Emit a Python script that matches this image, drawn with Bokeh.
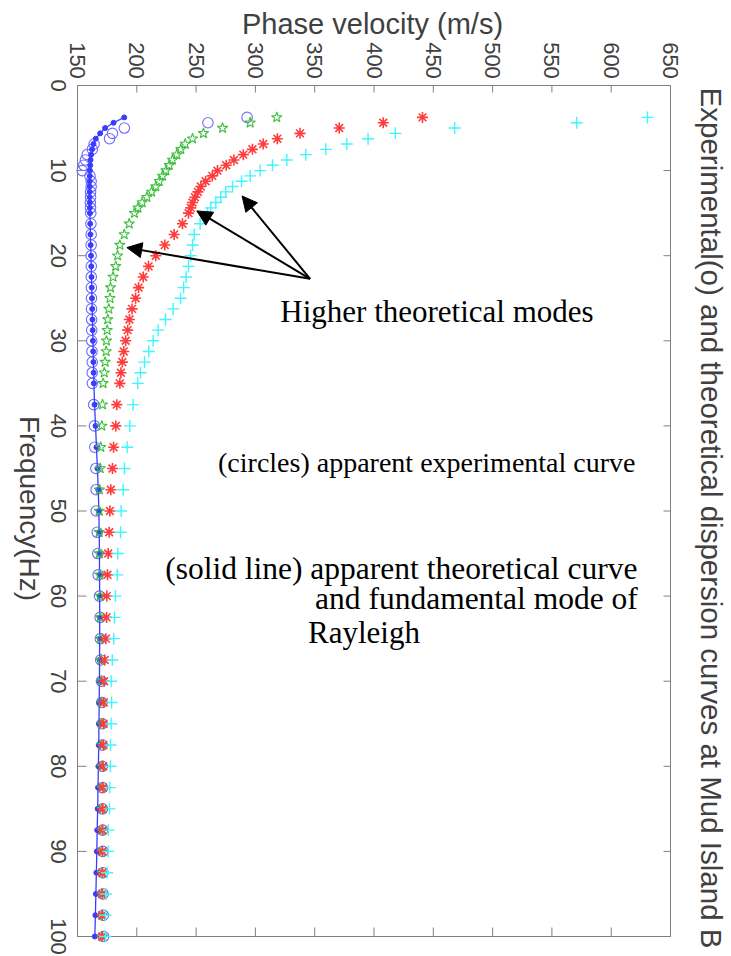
import math
from bokeh.plotting import figure
from bokeh.models import Range1d, Arrow, NormalHead, Label
from bokeh.embed import file_html
from bokeh.resources import INLINE

# ---------------- data ----------------
freq = [3.75, 4.375, 5.0, 5.625, 6.25, 6.875, 7.5, 8.125, 8.75, 9.375, 10.0, 10.625,
        11.25, 11.875, 12.5, 13.125, 13.75, 14.375, 15.0,
        16.25, 17.5, 18.75, 20.0, 21.25, 22.5, 23.75, 25.0, 26.25, 27.5, 28.75, 30.0,
        31.25, 32.5, 33.75, 35.0,
        37.5, 40.0, 42.5, 45.0, 47.5, 50.0, 52.5, 55.0, 57.5, 60.0, 62.5, 65.0, 67.5,
        70.0, 72.5, 75.0, 77.5, 80.0, 82.5, 85.0, 87.5, 90.0, 92.5, 95.0, 97.5, 100.0]

# experimental (circles)
exp_vel = [293, 260, 189.5, 179.5, 177, 164, 162.5, 158.2, 156.7, 155.3, 154, 160.5,
           161.5, 161.5, 161, 161, 160.8, 161, 161.2,
           161.3, 161.5, 161.5, 161.5, 161.6, 161.6, 161.7, 161.8, 161.8, 161.9, 162, 162,
           162.2, 162.4, 162.4, 162.5,
           163.7, 164.3, 164.6, 165.5, 165.7, 165.8, 166.6, 167.1, 167.4, 168.5, 169.1, 169.3,
           169.6, 170.2, 170.5, 170.8, 170.8, 170.9, 171, 171, 171.2, 171.3, 171.5, 171.6,
           171.8, 172]

# theoretical apparent / fundamental (solid line with dots)
fund_vel = [189.4, 180.4, 173.3, 169.1, 165.4, 163.5, 162.3, 161.5, 161, 160.7, 160.5, 160.4,
            160.3, 160.3, 160.3, 160.3, 160.4, 160.4, 160.5,
            160.7, 160.9, 161.1, 161.4, 161.6, 161.8, 162, 162.2, 162.4, 162.6, 162.8, 163,
            163.2, 163.4, 163.6, 163.8,
            164.4, 165.2, 166, 166.8, 167.5, 168, 168.3, 168.5, 168.6, 168.7, 168.7, 168.7,
            168.6, 168.5, 168.3, 168.1, 167.9, 167.6, 167.3, 167, 166.6, 166.3, 165.9, 165.5,
            165.1, 164.6]

# higher mode 1 (green pentagrams)
mode1_vel = [318, 295.6, 272.3, 256.2, 247, 240.8, 237.1, 233.7, 230.1, 227.3, 224.5, 221.7,
             218.9, 216, 212.5, 208.5, 204.5, 201, 198,
             193.6, 189.4, 185.7, 183.8, 182.2, 180, 177.8, 177.4, 176.4, 175.5, 175, 174.4,
             174.2, 173.3, 172.6, 171.6,
             171.1, 170.5, 169.6, 169.1, 168.5, 168.3, 168.3, 168.4, 168.8, 169.1, 169.2, 169.3,
             169.6, 170.2, 170.3, 170.4, 170.5, 170.5, 170.6, 170.6, 170.7, 170.7, 170.8, 170.8,
             170.9, 170.9]

# higher mode 2 (red asterisks)
mode2_vel = [440.9, 407.8, 370.7, 337.6, 318.5, 306.6, 297.5, 289.8, 281.9, 275.4, 268, 263.7,
             258, 254, 251.5, 249, 247, 245.5, 243.6,
             238.5, 231.5, 223.6, 216, 209.9, 205.4, 201.5, 199, 196, 193.8, 192.3, 190.6,
             189, 187.8, 186.6, 185.7,
             183.1, 182.3, 180.4, 179.5, 178.1, 177.3, 176.7, 175.9, 175.3, 174.7, 174.5, 173.9,
             173, 172.5, 172.2, 172, 171.8, 171.6, 171.5, 171.3, 171.2, 171, 171, 170.9,
             170.8, 170.8]

# higher mode 3 (cyan plus)
mode3_vel = [630.6, 571, 468, 418, 395, 377, 359.4, 342.5, 326.5, 314.4, 304, 295.6,
             288.3, 280.7, 275, 270.8, 266.6, 262.4, 259.6,
             253.4, 248.4, 247, 245.4, 243.6, 241.6, 239.5, 236.9, 230.7, 224.2, 218, 213.8,
             210.1, 206.5, 203.1, 200.8,
             196.9, 194.1, 191.9, 189.6, 188.5, 186.8, 186.3, 184, 183.5, 182, 181.2, 180.6,
             179.3, 178.4, 178.8, 178.4, 177.8, 177.8, 177.2, 177, 176, 175.9, 175, 174,
             173.6, 173.5]

x_ticks = [150, 200, 250, 300, 350, 400, 450, 500, 550, 600, 650]
y_ticks = [0, 10, 20, 30, 40, 50, 60, 70, 80, 90, 100]

title_text = "Experimental(o) and theoretical dispersion curves at Mud Island B"
x_label = "Phase velocity (m/s)"
y_label = "Frequency(Hz)"

# arrows: (velocity, frequency) of tail and of the three heads
arrow_tail = (346.1, 22.72)
arrow_tips = [(191.6, 19.05), (250.6, 14.74), (288.8, 12.98)]

# note text, left velocity, centre frequency, font size
notes = [("Higher theoretical modes", 321.0, 26.5, "31px"),
         ("(circles) apparent experimental curve", 268.5, 44.3, "28px"),
         ("(solid line) apparent theoretical curve", 223.9, 56.8, "31.5px"),
         ("and fundamental mode of", 350.3, 60.3, "31.5px"),
         ("Rayleigh", 344.4, 64.3, "31px")]

# ---------------- layout (pixels of the canvas) ----------------
W, H = 731, 956
FL, FR, FT, FB = 77, 670, 85, 936          # visible plot box
X0, X1 = 150, 650
Y0, Y1 = 0, 100
KX = (FR - FL) / (X1 - X0)
KY = (FB - FT) / (Y1 - Y0)


def vx(px):
    return X0 + (px - FL) / KX


def fy(py):
    return Y0 + (py - FT) / KY


AX = "#808080"
TX = "#404040"
SANS = "Liberation Sans"

p = figure(width=W, height=H,
           x_range=Range1d(vx(0), vx(W)), y_range=Range1d(fy(H), fy(0)),
           x_axis_location=None, y_axis_location=None,
           output_backend="svg", toolbar_location=None,
           min_border=0, min_border_left=0, min_border_right=0,
           min_border_top=0, min_border_bottom=0)
p.grid.visible = False
p.outline_line_color = None
p.background_fill_color = "white"
p.border_fill_color = "white"

# plot box
p.quad(left=[X0], right=[X1], top=[Y0], bottom=[Y1], fill_color=None,
       line_color=AX, line_width=1)

# inward tick marks on all four sides
n_x = len(x_ticks)
n_y = len(y_ticks)
p.segment(x0=x_ticks, y0=[Y0] * n_x, x1=x_ticks, y1=[Y0 + 7 / KY] * n_x,
          line_color=AX, line_width=1)
p.segment(x0=x_ticks, y0=[Y1] * n_x, x1=x_ticks, y1=[Y1 - 9 / KY] * n_x,
          line_color=AX, line_width=1)
p.segment(x0=[X0] * n_y, y0=y_ticks, x1=[X0 + 9 / KX] * n_y, y1=y_ticks,
          line_color=AX, line_width=1)
p.segment(x0=[X1] * n_y, y0=y_ticks, x1=[X1 - 7 / KX] * n_y, y1=y_ticks,
          line_color=AX, line_width=1)

# tick labels (rotated clockwise, read top to bottom)
for t in x_ticks:
    p.add_layout(Label(x=t, y=fy(60), text=str(t), angle=-math.pi / 2,
                       text_align="center", text_baseline="middle",
                       text_font=SANS, text_font_size="22px", text_color=TX))
for t in y_ticks:
    p.add_layout(Label(x=vx(57.5), y=t, text=str(t), angle=-math.pi / 2,
                       text_align="center", text_baseline="middle",
                       text_font=SANS, text_font_size="22px", text_color=TX))

# axis titles and plot title
p.add_layout(Label(x=vx(372), y=fy(23), text=x_label,
                   text_align="center", text_baseline="middle",
                   text_font=SANS, text_font_size="29px", text_color=TX))
p.add_layout(Label(x=vx(29), y=fy(508), text=y_label,
                   angle=-math.pi / 2, text_align="center", text_baseline="middle",
                   text_font=SANS, text_font_size="28px", text_color=TX))
p.add_layout(Label(x=vx(711), y=fy(517.5), text=title_text,
                   angle=-math.pi / 2, text_align="center", text_baseline="middle",
                   text_font=SANS, text_font_size="29.5px", text_color=TX))

# ---------------- glyphs ----------------
p.scatter(exp_vel, freq, marker="circle", size=10.5, fill_color=None,
          line_color="#6b6bff", line_width=1.1)
p.line(fund_vel, freq, line_color="#3b3bff", line_width=1.3)
p.scatter(fund_vel, freq, marker="circle", size=5, fill_color="#3b3bff", line_color="#3b3bff")
p.scatter(mode1_vel, freq, marker="star", size=11, fill_color=None,
          line_color="#3fbf3f", line_width=1.1)
p.scatter(mode2_vel, freq, marker="asterisk", size=11, line_color="#ff3b3b", line_width=1.6)
p.scatter(mode3_vel, freq, marker="cross", size=12, line_color="#3ff5ff", line_width=1.4)

for (xe, ye) in arrow_tips:
    p.add_layout(Arrow(end=NormalHead(size=15, fill_color="black", line_color="black"),
                       x_start=arrow_tail[0], y_start=arrow_tail[1], x_end=xe, y_end=ye,
                       line_color="black", line_width=2))

for (txt, xv, yv, fs) in notes:
    p.add_layout(Label(x=xv, y=yv, text=txt, text_font="Liberation Serif",
                       text_font_size=fs, text_color="black",
                       text_align="left", text_baseline="middle"))

open("out.html", "w").write(file_html(p, INLINE))
